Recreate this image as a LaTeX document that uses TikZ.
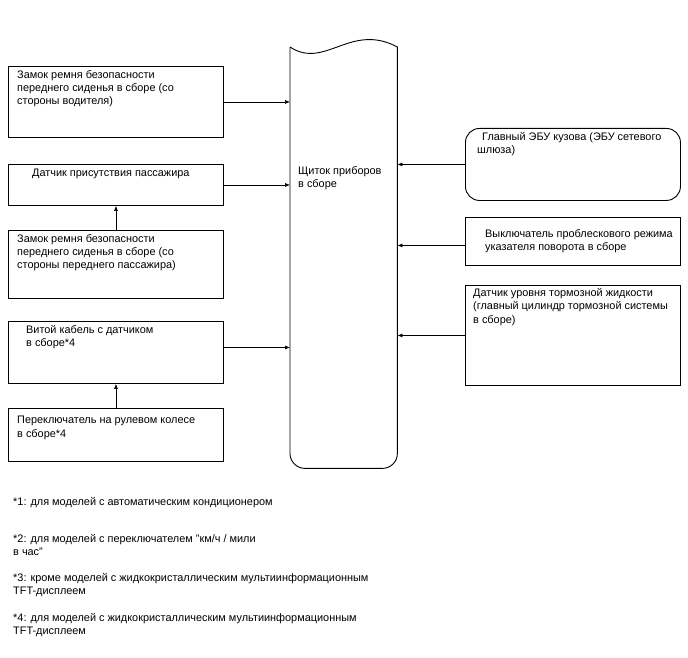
\documentclass[tikz,border=0pt]{standalone}
\usepackage{fontspec}
\setmainfont{Liberation Sans}
\usetikzlibrary{arrows.meta,positioning}

\tikzset{
  blk/.style={draw, line width=0.9pt, inner sep=0pt, anchor=north west},
  txt/.style={anchor=north west, inner sep=0pt, align=left,
    font=\fontsize{10.9}{13.4}\selectfont},
  arr/.style={line width=0.6pt, -{Latex[length=5pt,width=4pt]}}
}

\begin{document}
\begin{tikzpicture}[x=1pt,y=1pt]

    \useasboundingbox (0,0) rectangle (688,-658);

    % Left column
    \node[blk, minimum width=215pt, minimum height=71pt] (beltdrv) at (8,-66) {};
    \node[txt] (beltdrvtxt) at (17,-70) {Замок ремня безопасности\\переднего сиденья в сборе (со\\стороны водителя)};

    \node[blk, minimum width=215pt, minimum height=41pt] (occup) at (8,-164) {};
    \node[txt] (occuptxt) at (32,-169) {Датчик присутствия пассажира};

    \node[blk, minimum width=215pt, minimum height=68pt] (beltpas) at (8,-230) {};
    \node[txt] (beltpastxt) at (17,-234) {Замок ремня безопасности\\переднего сиденья в сборе (со\\стороны переднего пассажира)};

    \node[blk, minimum width=215pt, minimum height=62pt] (spiral) at (8,-321) {};
    \node[txt] (spiraltxt) at (26,-325) {Витой кабель с датчиком\\в сборе*4};

    \node[blk, minimum width=215pt, minimum height=53pt] (steersw) at (8,-408) {};
    \node[txt] (steerswtxt) at (17,-416) {Переключатель на рулевом колесе\\в сборе*4};

    % Combination meter
    \node[inner sep=0pt, minimum width=107pt, minimum height=421pt, anchor=north west] (meter) at (290,-47) {};
    \draw[line width=0.9pt] (meter.north west)
        .. controls ([shift={(35,-23)}]meter.north west) and ([shift={(-47,25)}]meter.north east) .. (meter.north east)
        [rounded corners=15pt] -- (meter.south east) -- (meter.south west) -- (meter.north west);
    \node[txt] (metertxt) at (298,-166) {Щиток приборов\\в сборе};

    % Right column
    \node[blk, rounded corners=14pt, minimum width=215pt, minimum height=72pt] (ecu) at (465,-128) {};
    \node[txt] (ecutxt) at (477,-132) {\hspace*{5pt}Главный ЭБУ кузова (ЭБУ сетевого\\шлюза)};

    \node[blk, minimum width=215pt, minimum height=48pt] (flasher) at (465,-217) {};
    \node[txt] (flashertxt) at (485,-229) {Выключатель проблескового режима\\указателя поворота в сборе};

    \node[blk, minimum width=215pt, minimum height=100pt] (brake) at (465,-285) {};
    \node[txt] (braketxt) at (473,-288) {Датчик уровня тормозной жидкости\\(главный цилиндр тормозной системы\\в сборе)};

    % Connectors
    \draw[arr] (beltdrv.east) -- (beltdrv.east -| meter.west);
    \draw[arr] (occup.east) -- (occup.east -| meter.west);
    \draw[arr] ([yshift=5pt]spiral.east) -- ([yshift=5pt]spiral.east -| meter.west);
    \draw[arr] (beltpas.north) -- (occup.south);
    \draw[arr] (steersw.north) -- (spiral.south);
    \draw[arr] (ecu.west) -- (ecu.west -| meter.east);
    \draw[arr] ([yshift=-4pt]flasher.west) -- ([yshift=-4pt]flasher.west -| meter.east);
    \draw[arr] (brake.west) -- (brake.west -| meter.east);

    % Footnotes
    \node[txt] (note1) at (13,-497) {*1: для моделей с автоматическим кондиционером};
    \node[txt] (note2) at (13,-534) {*2: для моделей с переключателем \symbol{34}км/ч / мили\\в час\symbol{34}};
    \node[txt] (note3) at (13,-573) {*3: кроме моделей с жидкокристаллическим мультиинформационным\\TFT-дисплеем};
    \node[txt] (note4) at (13,-613) {*4: для моделей с жидкокристаллическим мультиинформационным\\TFT-дисплеем};

\end{tikzpicture}
\end{document}
